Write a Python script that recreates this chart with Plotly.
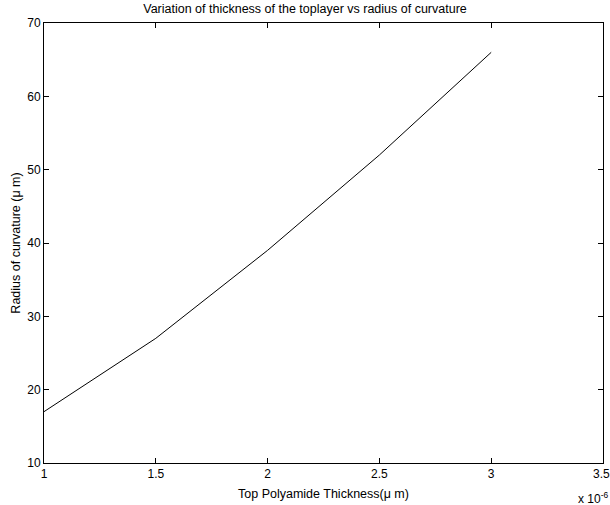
import plotly.graph_objects as go

thickness = [1, 1.5, 2, 2.5, 3]          # x 10^-6 m
radius = [17, 27, 39, 52, 66]             # micrometres
x_ticks = [1, 1.5, 2, 2.5, 3, 3.5]
x_ticklabels = ["1", "1.5", "2", "2.5", "3", "3.5"]
y_ticks = [10, 20, 30, 40, 50, 60, 70]

font = "Liberation Sans, Arial, sans-serif"

fig = go.Figure()
fig.add_trace(go.Scatter(x=thickness, y=radius, mode="lines",
                         line=dict(color="black", width=1), showlegend=False))

fig.update_layout(
    width=610, height=505,
    margin=dict(l=44, r=7, t=23, b=42),
    paper_bgcolor="white", plot_bgcolor="white",
    font=dict(family=font, size=12, color="black"),
    title=dict(text="Variation of thickness of the toplayer vs radius of curvature",
               x=0.5, xanchor="center", y=1 - 9 / 505, yanchor="middle",
               font=dict(size=12.5)),
    xaxis=dict(range=[1, 3.5], tickvals=x_ticks[:-1], ticktext=x_ticklabels[:-1],
               showgrid=False, zeroline=False, showline=True, linecolor="black",
               linewidth=1, mirror="ticks", ticks="inside", ticklen=5,
               tickcolor="black", tickfont=dict(size=12),
               title=dict(text="Top Polyamide Thickness(μ m)", standoff=8,
                          font=dict(size=12.5))),
    yaxis=dict(range=[10, 70], tickvals=y_ticks,
               showgrid=False, zeroline=False, showline=True, linecolor="black",
               linewidth=1, mirror="ticks", ticks="inside", ticklen=5,
               tickcolor="black", tickfont=dict(size=12),
               title=dict(text="Radius of curvature (μ m)", standoff=3,
                          font=dict(size=12.5))),
    annotations=[
        dict(text=x_ticklabels[-1], xref="x", yref="paper",
             x=x_ticks[-1], y=0, xanchor="center", yanchor="top",
             yshift=-2, xshift=-2, showarrow=False, font=dict(size=12, family=font)),
        dict(text="x 10<sup>-6</sup>", xref="paper", yref="paper",
             x=1.0, y=0, xanchor="center", yanchor="top",
             yshift=-25, xshift=-10, showarrow=False,
             font=dict(size=12, family=font)),
    ],
)

fig.write_html("out.html")
